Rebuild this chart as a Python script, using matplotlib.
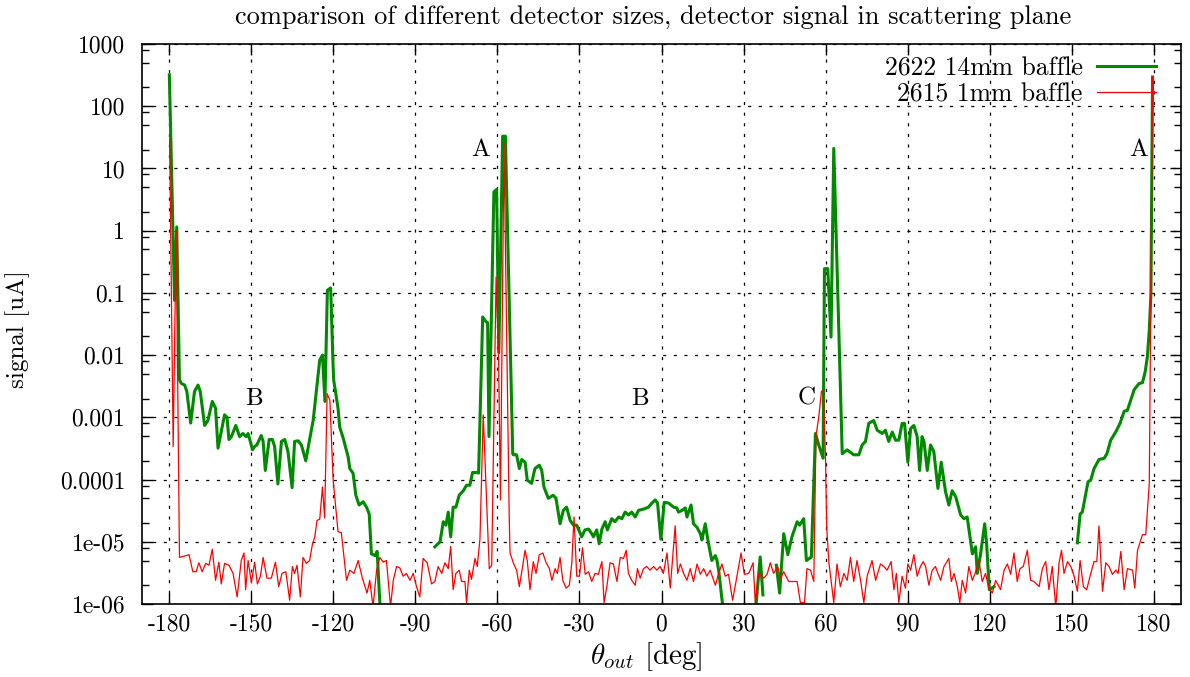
import numpy as np
import matplotlib
matplotlib.use('Agg')
import matplotlib.pyplot as plt
from matplotlib.ticker import FixedLocator, LogLocator, NullFormatter

plt.rcParams['font.family'] = 'cmr10'
plt.rcParams['mathtext.fontset'] = 'cm'
plt.rcParams['axes.unicode_minus'] = False
plt.rcParams['axes.formatter.use_mathtext'] = True

nan = np.nan

# run 2622, 14mm baffle (nan = no signal, line is broken there)
theta_2622 = [
    -180.0, -178.1, -177.3, -176.3, -175.6, -174.4, -173.6, -172.2, -170.8, -169.5,
    -168.7, -167.1, -165.9, -164.3, -163.1, -162.2, -159.8, -158.9, -158.2, -157.3,
    -155.7, -154.3, -153.1, -151.9, -151.2, -150.4, -149.6, -148.8, -148.0, -146.4,
    -145.7, -144.9, -143.5, -142.3, -141.5, -140.3, -139.0, -137.8, -136.6, -135.1,
    -134.2, -132.9, -131.7, -130.1, -128.7, -127.4, -125.0, -124.0, -123.1, -122.2,
    -121.0, -120.1, -119.9, -118.3, -117.7, -116.4, -114.6, -114.0, -112.8, -111.8,
    -110.6, -109.1, -107.9, -106.9, -106.1, -104.8, -104.0, -102.8, -95.0,
    -82.9, -81.0, -79.8, -78.85, -78.0, -77.1, -76.2, -75.2, -74.0, -72.5,
    -71.3, -70.1, -69.1, -67.6, -66.9, -65.4, -64.3, -63.6, -63.1, -61.3,
    -60.3, -59.5, -58.1, -57.1, -54.4, -54.2, -53.0, -52.0, -51.1, -49.9,
    -49.1, -47.5, -46.3, -44.7, -43.8, -43.0, -41.4, -39.6, -38.6, -37.1,
    -35.9, -34.7, -33.4, -32.2, -31.0, -29.2, -28.0, -26.7, -25.5, -24.9,
    -23.7, -22.8, -21.8, -20.6, -19.8, -18.2, -17.0, -15.7, -14.5, -13.3,
    -12.1, -10.9, -9.6, -8.4, -6.6, -4.75, -3.5, -2.3, -1.45, -0.24,
    0.98, 2.57, 4.4, 5.6, 6.2, 7.5, 8.7, 9.3, 10.8, 11.7,
    13.0, 14.2, 14.8, 16.0, 17.2, 18.4, 19.7, 20.3, 20.9, 22.1, 22.8, 28.0,
    34.3, 36.1, 37.1, 40.0,
    42.0, 43.2, 44.7, 46.2, 47.7, 49.6, 50.5, 52.0, 53.0, 54.8,
    56.3, 57.5, 59.1, 59.6, 60.8, 62.0, 63.0, 66.1, 67.9, 70.3,
    72.2, 73.4, 74.6, 75.8, 77.6, 78.9, 80.7, 81.9, 83.1, 84.4,
    85.6, 86.8, 88.0, 88.9, 90.1, 91.1, 92.3, 93.5, 94.4, 95.3,
    96.0, 97.2, 98.4, 99.6, 101.1, 102.3, 103.9, 105.1, 106.3, 107.6,
    109.4, 110.6, 111.8, 113.7, 114.9, 115.5, 116.7, 118.2, 118.9, 119.9,
    121.6, 135.0,
    152.1, 153.1, 153.9, 155.2, 156.0, 157.0, 158.2, 160.0, 161.9, 162.9,
    164.3, 166.2, 167.7, 169.2, 170.4, 172.9, 174.7, 175.9, 176.9, 177.7,
    178.4, 179.0, 179.6,
]
signal_2622 = [
    320, 0.076, 1.15, 4e-3, 3.5e-3, 3.3e-3, 2.6e-3, 8.1e-4, 2.6e-3, 3.3e-3,
    2.6e-3, 7.4e-4, 8.9e-4, 1.8e-3, 1.4e-3, 3.2e-4, 1.1e-3, 1.0e-3, 4.4e-4, 4.9e-4,
    7.4e-4, 4.9e-4, 5.5e-4, 4.9e-4, 5.5e-4, 4.1e-4, 3.0e-4, 3.4e-4, 3.6e-4, 5.1e-4,
    4.1e-4, 1.4e-4, 4.4e-4, 4.4e-4, 3.4e-4, 8.5e-5, 4.1e-4, 4.4e-4, 2.8e-4, 7.4e-5,
    4.1e-4, 4.2e-4, 3.6e-4, 2.0e-4, 4.4e-4, 8.9e-4, 8.3e-3, 1.0e-2, 1.8e-3, 0.11,
    0.12, 6.5e-3, 4e-3, 1.4e-3, 7e-4, 4.6e-4, 2.3e-4, 1.5e-4, 1.26e-4, 5.6e-5,
    3.9e-5, 4.4e-5, 3.6e-5, 2.8e-5, 6.4e-6, 6e-6, 7e-6, 7e-7, nan,
    8.3e-6, 1.0e-5, 2.1e-5, 1.85e-5, 3.0e-5, 1.2e-5, 3.6e-5, 3.6e-5, 5.6e-5, 6.6e-5,
    8.1e-5, 8.1e-5, 1.3e-4, 1.3e-4, 1.27e-4, 0.041, 0.035, 0.033, 4.9e-4, 4.2,
    4.6, 0.011, 33, 33, 2.6e-4, 2.5e-4, 2.5e-4, 1.5e-4, 2.1e-4, 1.9e-4,
    9.8e-5, 8.7e-5, 1.5e-4, 1.7e-4, 1.4e-4, 7.6e-5, 5e-5, 5.6e-5, 5e-5, 1.95e-5,
    3.2e-5, 3.6e-5, 2.2e-5, 1.85e-5, 1.85e-5, 1.2e-5, 1.55e-5, 1.6e-5, 1.35e-5, 1.2e-5,
    1.55e-5, 9.3e-6, 1.6e-5, 2.1e-5, 1.55e-5, 2.35e-5, 2.1e-5, 2.5e-5, 2.35e-5, 3.0e-5,
    2.7e-5, 3.0e-5, 2.5e-5, 3.2e-5, 3.35e-5, 3.6e-5, 4.2e-5, 4.7e-5, 4.2e-5, 1.1e-5,
    4.3e-5, 4.2e-5, 3.6e-5, 3.5e-5, 3.0e-5, 3.2e-5, 3.5e-5, 2.5e-5, 3.9e-5, 1.95e-5,
    1.7e-5, 1.35e-5, 1.07e-5, 1.95e-5, 9.3e-6, 5e-6, 6e-6, 5e-6, 3.5e-6, 1.2e-6, 7e-7, nan,
    7e-7, 5.7e-6, 1.4e-6, nan,
    4.2e-6, 1.5e-6, 1.35e-5, 6.2e-6, 1.2e-5, 2.1e-5, 1.85e-5, 2.35e-5, 5e-6, 5.7e-6,
    5.5e-4, 3.6e-4, 2.2e-4, 0.245, 0.245, 0.0195, 21, 2.6e-4, 3e-4, 2.5e-4,
    2.5e-4, 3.6e-4, 4.1e-4, 8e-4, 8.9e-4, 6.2e-4, 5.5e-4, 6.2e-4, 4.1e-4, 5.8e-4,
    4.3e-4, 4.3e-4, 8e-4, 8e-4, 1.9e-4, 6.6e-4, 7.4e-4, 4.9e-4, 1.4e-4, 4.9e-4,
    4.1e-4, 1.4e-4, 3.6e-4, 2.8e-4, 7.2e-5, 1.9e-4, 6.3e-5, 3.9e-5, 6.6e-5, 5.3e-5,
    2.7e-5, 2.35e-5, 2.5e-5, 6.4e-6, 8.3e-6, 3.1e-6, 6.4e-6, 1.95e-5, 9.3e-6, 1.7e-6,
    1.9e-6, nan,
    9.6e-6, 2.8e-5, 3e-5, 6e-5, 9.2e-5, 9.8e-5, 1.5e-4, 2.1e-4, 2.2e-4, 2.6e-4,
    4.3e-4, 5.9e-4, 8e-4, 1.25e-3, 1.3e-3, 2.8e-3, 3.5e-3, 3.6e-3, 5.4e-3, 9.4e-3,
    0.025, 0.098, 295,
]

# run 2615, 1mm baffle
theta_2615 = [
    -179.9, -178.6, -177.5, -176.3, -174.4, -172.8, -171.4, -170.2, -169.2, -168.0,
    -166.7, -165.5, -164.3, -163.1, -161.9, -161.0, -159.8, -158.2, -156.7, -155.2,
    -153.7, -152.7, -152.1, -151.2, -150.0, -148.8, -147.8, -146.7, -145.7, -144.3,
    -142.7, -141.2, -140.0, -138.8, -137.4, -136.0, -135.0, -134.2, -133.3, -132.1,
    -131.1, -129.9, -128.7, -127.7, -126.8, -126.0, -125.0, -124.0, -123.2, -122.3,
    -121.3, -120.1, -118.3, -117.1, -115.2, -114.0, -112.5, -110.95, -109.4, -107.7,
    -106.7, -105.5, -104.2, -103.0, -101.8, -100.6, -99.1, -98.1, -96.9, -95.7,
    -94.5, -93.3, -92.0, -90.8, -89.6, -88.4, -87.2, -85.7, -84.1, -82.9,
    -81.7, -80.4, -79.2, -78.0, -77.1, -76.2, -75.2, -74.0, -73.1, -71.9,
    -71.3, -70.3, -69.5, -68.2, -67.4, -66.4, -65.2, -63.0, -62.1, -60.5,
    -59.6, -58.9, -57.6, -55.7, -55.4, -54.2, -53.0, -52.0, -50.8, -49.9,
    -49.1, -48.1, -46.9, -45.9, -44.7, -43.4, -42.2, -41.0, -40.1, -38.9,
    -38.1, -37.1, -36.1, -34.9, -33.7, -32.8, -32.0, -31.0, -30.0, -28.9,
    -27.9, -26.7, -25.5, -24.3, -23.1, -21.8, -21.0, -20.0, -18.8, -17.6,
    -16.3, -15.1, -13.9, -12.9, -12.1, -10.9, -9.6, -8.8, -7.8, -6.6,
    -5.4, -4.2, -2.9, -1.7, -0.5, 0.7, 2.0, 3.2, 5.0, 5.9,
    6.9, 8.1, 9.3, 10.5, 11.7, 13.0, 14.2, 15.4, 16.6, 17.8,
    19.7, 20.9, 22.1, 23.3, 24.5, 26.0, 27.6, 29.1, 30.3, 31.9,
    33.5, 34.3, 35.5, 37.4, 38.6, 39.8, 41.0, 42.5, 43.5, 44.7,
    46.5, 48.4, 49.6, 50.8, 52.3, 53.2, 54.5, 55.7, 56.5, 57.5,
    58.5, 59.2, 60.0, 60.4, 61.2, 63.0, 64.2, 65.4, 66.7, 67.9,
    69.1, 70.3, 71.5, 72.8, 74.0, 75.2, 77.0, 78.3, 80.1, 81.3,
    82.5, 84.0, 85.0, 85.9, 86.8, 88.0, 89.2, 90.1, 91.1, 92.3,
    93.5, 94.7, 95.7, 96.6, 97.8, 99.0, 100.2, 101.1, 102.1, 103.3,
    105.1, 106.0, 107.0, 108.2, 109.1, 110.0, 111.2, 112.4, 113.7, 114.9,
    116.1, 117.3, 118.5, 119.7, 121.0, 122.2, 123.4, 124.0, 125.3, 126.5,
    127.7, 128.9, 130.1, 131.1, 132.3, 133.8, 135.0, 136.2, 138.1, 139.3,
    140.5, 141.7, 142.9, 144.2, 145.4, 146.3, 147.2, 148.5, 149.7, 150.9,
    152.1, 153.1, 154.3, 155.5, 157.0, 158.2, 159.2, 160.0, 161.3, 162.5,
    163.7, 164.9, 166.2, 167.0, 168.0, 169.2, 170.4, 172.3, 173.1, 174.1,
    175.9, 177.1, 178.4, 179.6,
]
signal_2615 = [
    30, 3.4e-4, 1.0, 5.6e-6, 5.9e-6, 6.2e-6, 3.3e-6, 3.3e-6, 4.6e-6, 3.3e-6,
    4.5e-6, 4.2e-6, 7.6e-6, 2.4e-6, 4.7e-6, 2.1e-6, 4.5e-6, 4.2e-6, 3.1e-6, 1.3e-6,
    5e-6, 6.6e-6, 1.7e-6, 5e-6, 2.2e-6, 4.7e-6, 2.1e-6, 2.8e-6, 5.6e-6, 2.6e-6,
    2.6e-6, 4.7e-6, 1.9e-6, 3.1e-6, 3.3e-6, 1.15e-6, 4e-6, 3.1e-6, 4.2e-6, 1.3e-6,
    5.6e-6, 4.5e-6, 5e-6, 9e-6, 1.2e-5, 2.2e-5, 2.3e-5, 7.6e-5, 2.4e-5, 2.4e-3,
    1.9e-3, 1e-4, 1.45e-5, 1.4e-5, 2.4e-6, 3.5e-6, 3.1e-6, 5e-6, 2.6e-6, 1.5e-6,
    2.4e-6, 9e-7, 3.5e-6, 5.6e-6, 4.7e-6, 5e-6, 9e-7, 2.4e-6, 4e-6, 3.8e-6,
    2.8e-6, 3.1e-6, 2.4e-6, 3.1e-6, 1.9e-6, 1.3e-6, 5.4e-6, 4.6e-6, 2.1e-6, 2.3e-6,
    4e-6, 3.1e-6, 4.6e-6, 3.7e-6, 8.4e-6, 1.7e-6, 3.1e-6, 3.5e-6, 2.3e-6, 2.3e-6,
    1.05e-6, 3.5e-6, 2.5e-6, 5.4e-6, 4e-6, 1.1e-5, 1.1e-3, 3.7e-6, 4.2e-6, 0.18,
    0.01, 4.7e-5, 25, 2.5e-5, 6.6e-6, 4.6e-6, 3.5e-6, 1.9e-6, 4e-6, 7.3e-6,
    5e-6, 1.7e-6, 4.8e-6, 3.1e-6, 6.2e-6, 6.6e-6, 4.6e-6, 3.7e-6, 2.4e-6, 3.7e-6,
    3.1e-6, 5.6e-6, 2.4e-6, 1.8e-6, 2e-6, 4.6e-6, 2.5e-5, 2.8e-6, 2.8e-6, 8e-6,
    3e-6, 3.3e-6, 2.3e-6, 3.1e-6, 3e-6, 4.8e-6, 1.05e-6, 1.9e-6, 4.6e-6, 4.4e-6,
    2.3e-6, 5.6e-6, 5.4e-6, 7.3e-6, 3.1e-6, 2.4e-6, 2e-6, 3.7e-6, 2.6e-6, 3.7e-6,
    4e-6, 3.5e-6, 4e-6, 3.5e-6, 4e-6, 3.1e-6, 6.6e-6, 1.8e-6, 1.8e-5, 3.1e-6,
    4.4e-6, 3.1e-6, 2.4e-6, 3.7e-6, 2.3e-6, 4.4e-6, 3e-6, 3.7e-6, 2.8e-6, 3.5e-6,
    2e-6, 3.1e-6, 4.4e-6, 2.8e-6, 3e-6, 1.15e-6, 2.8e-6, 6.6e-6, 3e-6, 3.1e-6,
    4.6e-6, 1.05e-6, 3.1e-6, 2.6e-6, 3e-6, 4.6e-6, 3.1e-6, 4e-6, 2.6e-6, 3.3e-6,
    2.3e-6, 2.3e-6, 2.3e-6, 1.05e-6, 1.05e-6, 3.7e-6, 3.5e-6, 2.3e-6, 5e-4, 1e-3,
    2.6e-3, 2.8e-3, 2e-4, 1.8e-5, 4.7e-6, 1.05e-6, 4.4e-6, 1.9e-6, 3.1e-6, 2.4e-6,
    5.6e-6, 2.3e-6, 5e-6, 2.4e-6, 1.05e-6, 2.8e-6, 5e-6, 2.4e-6, 4.4e-6, 4e-6,
    3.5e-6, 4.8e-6, 1.7e-6, 3.1e-6, 1.05e-6, 2.8e-6, 1.8e-6, 4.4e-6, 3.5e-6, 6.2e-6,
    2.8e-6, 4e-6, 4.8e-6, 4e-6, 2e-6, 3.5e-6, 4e-6, 3.1e-6, 2.4e-6, 4e-6,
    5.4e-6, 2.3e-6, 3.1e-6, 1.9e-6, 1.05e-6, 2.4e-6, 1.5e-6, 4e-6, 2.4e-6, 3.3e-6,
    5e-6, 2.3e-6, 3.1e-6, 1.8e-6, 1.5e-6, 2.4e-6, 1.9e-6, 1.7e-6, 3.5e-6, 4.4e-6,
    3e-6, 6.6e-6, 2.3e-6, 3.7e-6, 4e-6, 7.3e-6, 2.4e-6, 2.3e-6, 1.9e-6, 3.7e-6,
    4.8e-6, 1.7e-6, 4e-6, 9e-7, 4.6e-6, 7.3e-6, 3.1e-6, 4.8e-6, 4e-6, 2.8e-6,
    1.6e-6, 5e-6, 1.9e-6, 1.7e-6, 3.1e-6, 4.8e-6, 4.8e-6, 1.8e-5, 1.6e-6, 4.6e-6,
    4e-6, 3e-6, 3.5e-6, 3.1e-6, 7e-6, 1.7e-6, 3.7e-6, 3.5e-6, 1.8e-6, 7.3e-6,
    1.3e-5, 1.3e-5, 8.6e-5, 300,
]

xticks = [-180, -150, -120, -90, -60, -30, 0, 30, 60, 90, 120, 150, 180]
ydecades = [1e-6, 1e-5, 1e-4, 1e-3, 1e-2, 1e-1, 1, 10, 100, 1000]
ylabels = ['1e-06', '1e-05', '0.0001', '0.001', '0.01', '0.1', '1', '10', '100', '1000']

fig = plt.figure(figsize=(11.9, 6.77), dpi=100)
ax = fig.add_axes([142/1190, 73/677, 1039/1190, 560/677])

ax.plot(theta_2622, signal_2622, color='#008a00', lw=2.2, label='2622 14mm baffle')
ax.plot(theta_2615, signal_2615, color='#ff0000', lw=0.9, label='2615 1mm baffle')

ax.set_yscale('log')
ax.set_xlim(-190, 190)
ax.set_ylim(1e-6, 1000)

ax.xaxis.set_major_locator(FixedLocator(xticks))
ax.set_xticklabels([str(t) for t in xticks])
ax.yaxis.set_major_locator(FixedLocator(ydecades))
ax.set_yticklabels(ylabels)
ax.yaxis.set_minor_locator(LogLocator(base=10, subs=(2, 5, 8), numticks=20))
ax.yaxis.set_minor_formatter(NullFormatter())

ax.tick_params(which='both', direction='in', top=True, right=True, labelsize=17)
ax.tick_params(which='major', length=8, width=1.0)
ax.tick_params(which='minor', length=5, width=1.0)
ax.tick_params(axis='x', pad=7)
ax.tick_params(axis='y', pad=12)
for s in ax.spines.values():
    s.set_linewidth(1.2)

ax.grid(True, which='major', color='black', linestyle=(0, (2.5, 6)), linewidth=0.9)

# region markers
ax.text(-66.0, 20, 'A', fontsize=18, ha='center', va='center')
ax.text(174.6, 20, 'A', fontsize=18, ha='center', va='center')
ax.text(-149.2, 2e-3, 'B', fontsize=18, ha='center', va='center')
ax.text(-7.8, 2e-3, 'B', fontsize=18, ha='center', va='center')
ax.text(53.0, 2e-3, 'C', fontsize=18, ha='center', va='center')

ax.legend(loc='upper right', bbox_to_anchor=(0.976, 0.978), frameon=False,
          markerfirst=False, fontsize=18.5, handlelength=2.3, handletextpad=0.55,
          labelspacing=0.1, borderpad=0, borderaxespad=0)

fig.text(653/1190, 1 - 17/677, 'comparison of different detector sizes, detector signal in scattering plane',
         fontsize=19, ha='center', va='center')
fig.text(646/1190, 1 - 657/677, r'$\theta_{out}$ [deg]', fontsize=21, ha='center', va='center')
fig.text(18/1190, 1 - 329/677, 'signal [uA]', fontsize=18, ha='center', va='center', rotation=90)

fig.savefig('out.png', dpi=100)
